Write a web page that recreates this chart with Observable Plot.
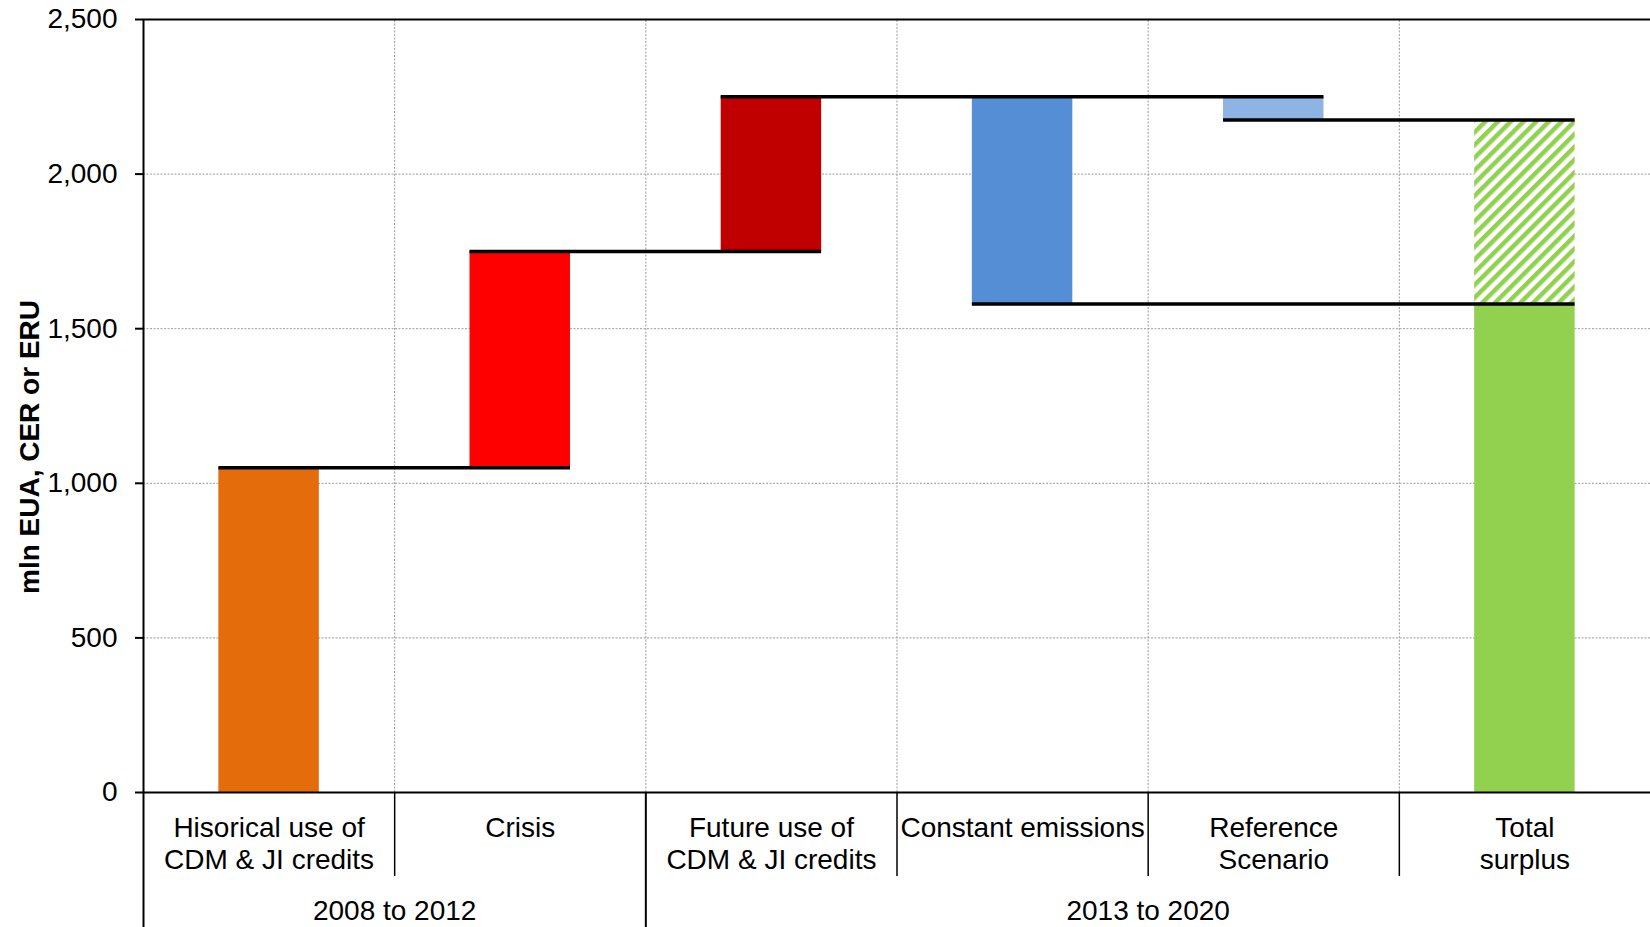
<!DOCTYPE html>
<html>
<head>
<meta charset="utf-8">
<script src="https://cdn.jsdelivr.net/npm/d3@7"></script>
<script src="https://cdn.jsdelivr.net/npm/@observablehq/plot@0.6"></script>
<style>
  html, body { margin: 0; padding: 0; background: #ffffff; }
</style>
</head>
<body>
<script>
// Categories along the x axis (one per column)
const categories = [
  "Hisorical use of\nCDM & JI credits",
  "Crisis",
  "Future use of\nCDM & JI credits",
  "Constant emissions",
  "Reference\nScenario",
  "Total\nsurplus"
];

// Periods grouping the columns: label, first column, column count
const periods = ["2008 to 2012", "2013 to 2020"];
const periodFirst = [0, 2];
const periodCount = [2, 4];

// Floating bars: lower and upper end of each column (mln units)
const barLow = [0, 1050, 1750, 1580, 2175, 0];
const barHigh = [1050, 1750, 2250, 2250, 2250, 1580];

// Extra surplus under the reference scenario, stacked on the total
const surplusLow = 1580;
const surplusHigh = 2175;

// Connector lines: level, column they start at, column they end at
const connectorLevel = [1050, 1750, 2250, 2175, 1580];
const connectorFrom = [0, 1, 2, 4, 3];
const connectorTo = [1, 2, 4, 5, 5];

// Y axis ticks
const yTicks = [0, 500, 1000, 1500, 2000, 2500];
const yLabel = "mln EUA, CER or ERU";

const palette = ["#E46C0A", "#FF0000", "#C00000", "#558ED5", "#8EB4E3", "#92D050"];

const bars = categories.map((c, i) => ({i, low: barLow[i], high: barHigh[i], color: palette[i]}));
const connectors = connectorLevel.map((level, k) => ({level, from: connectorFrom[k], to: connectorTo[k]}));
const half = 0.2; // half bar width, in column units
const grid = {stroke: "#9a9a9a", strokeWidth: 1, strokeDasharray: "2,1.5"};

const svg = Plot.plot({
  width: 1650,
  height: 927,
  marginLeft: 143,
  marginRight: 0,
  marginTop: 19,
  marginBottom: 135,
  style: {fontFamily: "'Liberation Sans', Arial, sans-serif", fontSize: "28px", color: "#000", background: "#fff"},
  x: {type: "linear", domain: [0, categories.length], axis: null},
  y: {domain: [0, 2500], axis: null},
  marks: [
    // dotted grid
    Plot.ruleY(yTicks.slice(1, -1), {...grid}),
    Plot.ruleX(d3.range(1, categories.length), {y1: 0, y2: 2500, ...grid}),

    // floating bars
    Plot.rectY(bars, {
      x1: d => d.i + 0.5 - half, x2: d => d.i + 0.5 + half,
      y1: "low", y2: "high", fill: "color"
    }),
    // hatched surplus on top of the total
    Plot.rectY([{low: surplusLow, high: surplusHigh}], {
      x1: categories.length - 0.5 - half, x2: categories.length - 0.5 + half,
      y1: "low", y2: "high", fill: "url(#surplus-hatch)"
    }),

    // connector lines
    Plot.ruleY(connectors, {
      y: "level",
      x1: d => d.from + 0.5 - half,
      x2: d => d.to + 0.5 + half,
      stroke: "#000", strokeWidth: 3.5
    }),

    // frame: top, bottom and left lines
    Plot.ruleY([0, 2500], {stroke: "#000", strokeWidth: 2}),
    Plot.ruleX([0], {y1: 0, y2: 2500, stroke: "#000", strokeWidth: 2}),

    // y axis
    Plot.axisY(yTicks, {
      anchor: "left", tickSize: 8, tickPadding: 18, tickFormat: d3.format(","),
      fontSize: 28, label: null, stroke: "#000", strokeWidth: 2
    }),
    Plot.text([yLabel], {
      frameAnchor: "left", textAnchor: "middle", dx: -113, dy: 41, rotate: -90,
      fontWeight: "bold", fontSize: 28, fill: "#000"
    }),

    // column separators below the axis
    Plot.axisX(d3.range(1, categories.length).filter(i => !periodFirst.includes(i)), {
      anchor: "bottom", tickSize: 84, tickFormat: () => "", label: null, stroke: "#000", strokeWidth: 1.5
    }),
    // period separators, full depth
    Plot.axisX(periodFirst, {
      anchor: "bottom", tickSize: 135, tickFormat: () => "", label: null, stroke: "#000", strokeWidth: 2
    }),
    // column labels
    Plot.axisX(categories.map((c, i) => i + 0.5), {
      anchor: "bottom", tickSize: 0, tickPadding: 21, label: null,
      tickFormat: d => categories[Math.floor(d)], fontSize: 28, lineHeight: 1.16, fill: "#000"
    }),
    // period labels
    Plot.axisX(periods.map((p, k) => periodFirst[k] + periodCount[k] / 2), {
      anchor: "bottom", tickSize: 0, tickPadding: 108, label: null,
      tickFormat: d => periods[periodFirst.findIndex((f, k) => f + periodCount[k] / 2 === d)],
      fontSize: 28, fill: "#000"
    })
  ]
});

// diagonal hatch pattern for the surplus segment
const defs = d3.select(svg).insert("defs", ":first-child");
const pat = defs.append("pattern")
  .attr("id", "surplus-hatch")
  .attr("patternUnits", "userSpaceOnUse")
  .attr("width", 9).attr("height", 9)
  .attr("patternTransform", "rotate(45)");
pat.append("rect").attr("width", 9).attr("height", 9).attr("fill", "#ffffff");
pat.append("rect").attr("width", 4.5).attr("height", 9).attr("fill", palette[5]);

document.body.appendChild(svg);
</script>
</body>
</html>
